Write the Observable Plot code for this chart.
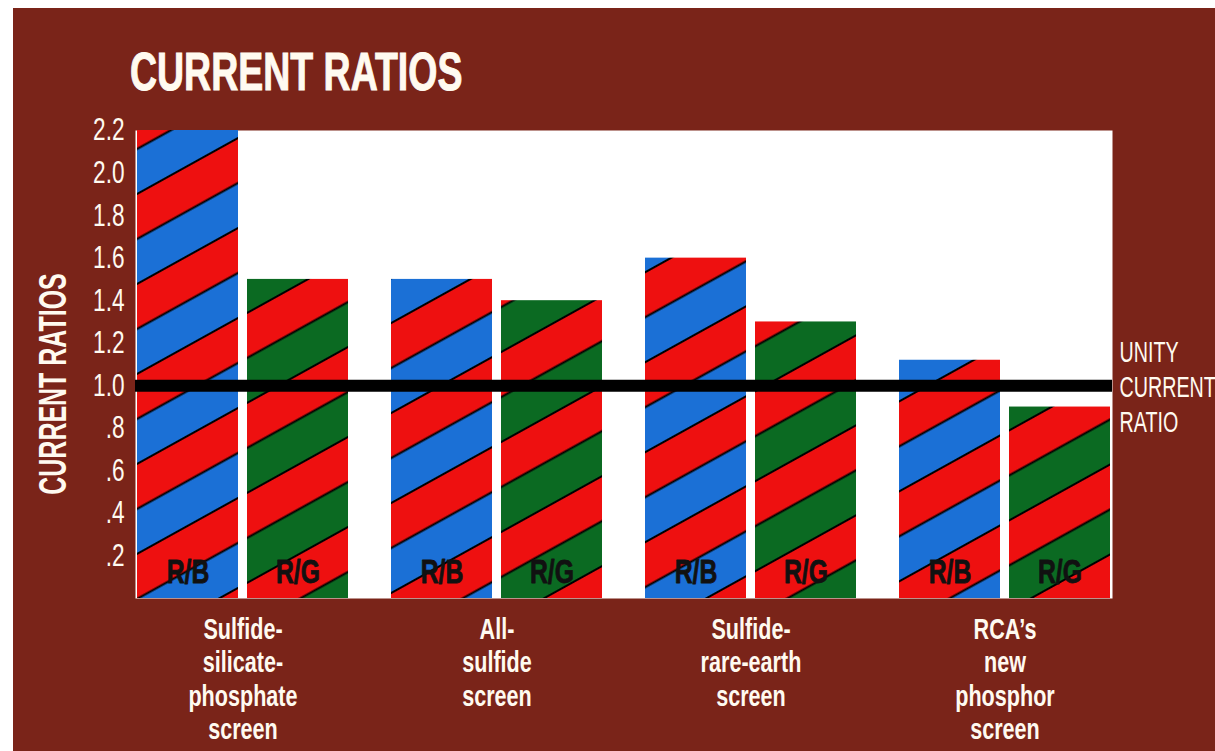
<!DOCTYPE html>
<html><head><meta charset="utf-8">
<script src="https://cdn.jsdelivr.net/npm/d3@7"></script>
<script src="https://cdn.jsdelivr.net/npm/@observablehq/plot@0.6"></script>
<style>
body{margin:0;background:#fff;width:1215px;height:751px;overflow:hidden;position:relative;font-family:"Liberation Sans",Arial,sans-serif;}
#bg{position:absolute;left:13px;top:8px;right:0;bottom:0;background:#7a2419;}
#title{position:absolute;left:130px;top:45px;color:#fffaf0;font-weight:bold;font-size:53px;line-height:1;white-space:nowrap;transform:scaleX(0.707);transform-origin:left top;-webkit-text-stroke:1px #fffaf0;}
#ylabel{position:absolute;left:52px;top:384px;color:#fffaf0;font-weight:bold;font-size:39px;line-height:1;white-space:nowrap;transform:translate(-50%,-50%) rotate(-90deg) scaleX(0.64);}
#chart{position:absolute;left:0;top:0;}
</style></head>
<body>
<div id="bg"></div>
<div id="title"></div>
<div id="ylabel"></div>
<div id="chart"></div>
<script>
const titleText = "CURRENT RATIOS";
const yLabelText = "CURRENT RATIOS";
const screens = ["Sulfide-\nsilicate-\nphosphate\nscreen", "All-\nsulfide\nscreen", "Sulfide-\nrare-earth\nscreen", "RCA’s\nnew\nphosphor\nscreen"];
const rbValues = [2.2, 1.5, 1.6, 1.12];
const rgValues = [1.5, 1.4, 1.3, 0.9];
const yTicks = [0.2, 0.4, 0.6, 0.8, 1.0, 1.2, 1.4, 1.6, 1.8, 2.0, 2.2];
const unity = 1.0;
const unityLabel = "UNITY\nCURRENT\nRATIO";
const rbLabel = "R/B";
const rgLabel = "R/G";

document.getElementById("title").textContent = titleText;
document.getElementById("ylabel").textContent = yLabelText;

const rbData = screens.map((s, i) => ({screen: s, value: rbValues[i], label: rbLabel}));
const rgData = screens.map((s, i) => ({screen: s, value: rgValues[i], label: rgLabel}));
const unityData = [{value: unity, text: unityLabel}];

const RED = "#ee1010", BLUE = "#1b70d6", GREEN = "#0b6a22";
const NS = "http://www.w3.org/2000/svg";
function stripePattern(id, c1, c2) {
  const p = document.createElementNS(NS, "pattern");
  const h = 78.7, half = h / 2;
  p.setAttribute("id", id);
  p.setAttribute("patternUnits", "userSpaceOnUse");
  p.setAttribute("width", 300);
  p.setAttribute("height", h);
  p.setAttribute("patternTransform", "rotate(-29)");
  const parts = [[0, half, c1], [half, half, c2], [0, 1, "#000"], [half - 1, 2, "#000"], [h - 1, 1, "#000"]];
  for (const [y, hh, f] of parts) {
    const r = document.createElementNS(NS, "rect");
    r.setAttribute("x", 0); r.setAttribute("y", y);
    r.setAttribute("width", 300); r.setAttribute("height", hh);
    r.setAttribute("fill", f);
    p.appendChild(r);
  }
  return p;
}
const defsMark = () => {
  const d = document.createElementNS(NS, "defs");
  d.appendChild(stripePattern("rb", RED, BLUE));
  d.appendChild(stripePattern("rg", RED, GREEN));
  return d;
};

const fmt = d => d < 1 ? d.toFixed(1).slice(1) : d.toFixed(1);
const FONT = '"Liberation Sans",Arial,sans-serif';
// horizontal condensing per font size (reference uses a condensed gothic face)
const condense = {"31": 0.73, "30": 0.72, "33": 0.75, "29": 0.68};

const chart = Plot.plot({
  width: 1215, height: 751,
  marginLeft: 135, marginRight: 103, marginTop: 130, marginBottom: 153,
  style: {background: "transparent", color: "#fffaf0", fontFamily: FONT},
  x: {domain: screens, paddingInner: 0.168, paddingOuter: 0, label: null},
  y: {domain: [0, 2.2], label: null},
  marks: [
    defsMark,
    Plot.frame({fill: "white", stroke: "none"}),
    Plot.barY(rbData, {x: "screen", y: "value", fill: "url(#rb)", insetRight: 110}),
    Plot.barY(rgData, {x: "screen", y: "value", fill: "url(#rg)", insetLeft: 110}),
    Plot.ruleY([unity], {stroke: "black", strokeWidth: 12}),
    Plot.text(rbData, {x: "screen", y: () => 0, text: "label", dx: -55, dy: -16, lineAnchor: "bottom", fontSize: 33, fontWeight: "bold", fill: "#111", stroke: "#111", strokeWidth: 0.8}),
    Plot.text(rgData, {x: "screen", y: () => 0, text: "label", dx: 55, dy: -16, lineAnchor: "bottom", fontSize: 33, fontWeight: "bold", fill: "#111", stroke: "#111", strokeWidth: 0.8}),
    Plot.text(unityData, {y: "value", text: "text", frameAnchor: "right", textAnchor: "start", dx: 7, fontSize: 29, lineHeight: 1.2, lineAnchor: "middle", fill: "#fffaf0"}),
    Plot.axisY({ticks: yTicks, tickSize: 0, tickPadding: 11, tickFormat: fmt, fontSize: 31, label: null}),
    Plot.axisX({tickSize: 0, tickPadding: 17, fontSize: 30, fontWeight: "bold", lineHeight: 1.11, label: null})
  ]
});

for (const t of chart.querySelectorAll("text")) {
  const holder = t.closest("[font-size]");
  const fs = holder ? String(parseFloat(holder.getAttribute("font-size"))) : null;
  const s = condense[fs];
  if (!s) continue;
  let tr = t.getAttribute("transform");
  if (tr == null) {
    const x = parseFloat(t.getAttribute("x")) || 0;
    t.removeAttribute("x");
    tr = `translate(${x},0)`;
  }
  t.setAttribute("transform", tr + ` scale(${s},1)`);
}
document.getElementById("chart").appendChild(chart);
</script>
</body></html>
